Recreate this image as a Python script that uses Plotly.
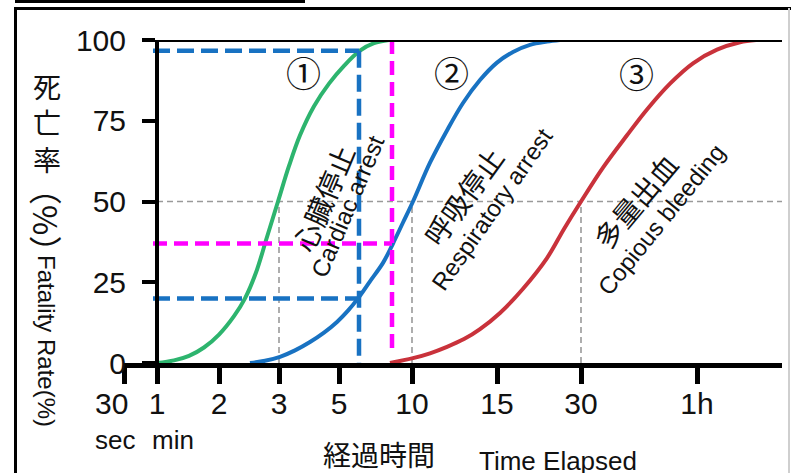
import plotly.graph_objects as go

# ---------------- data ----------------
# x axis: custom (non-uniform) time scale, tick positions in axis units
tick_pos = [0, 33, 95, 155, 215, 288, 373, 457, 573]
tick_text = ["", "1", "2", "3", "5", "10", "15", "30", "1h"]
x_max = 658

# 1: cardiac arrest
cardiac_x = [33, 50, 65, 80, 95, 110, 121, 132, 143, 154, 165, 176, 190, 205, 220, 236, 250, 265]
cardiac_y = [0, 0.8, 2.2, 4.8, 8.8, 14.5, 20, 28, 39, 50, 61, 70.5, 79.5, 86.5, 92, 96.7, 99, 100]
# 2: respiratory arrest
resp_x = [126, 141, 156, 171, 186, 200, 213, 224, 234, 246, 259, 269, 279, 289, 306, 323, 339, 356, 373, 389, 406, 423, 436]
resp_y = [0, 0.7, 1.9, 3.9, 6.5, 9.4, 12.7, 16.2, 20, 25.3, 31, 37, 43.5, 50, 62, 72, 80.5, 87.6, 93, 96.3, 98.5, 99.5, 100]
# 3: copious bleeding
bleed_x = [266, 289, 306, 323, 340, 356, 376, 399, 423, 440, 457, 479, 503, 523, 546, 569, 593, 616, 632]
bleed_y = [0, 1.5, 3.0, 5, 7.4, 10.5, 15.5, 23, 32.5, 41.5, 50, 60.5, 70.5, 78.5, 86.5, 92.8, 97, 99.3, 100]

median_x = [155, 288, 457]     # times at 50 % fatality
half_rate = 50
blue_guide_x = 235
blue_guide_y = [96.7, 20]
mag_guide_x = 268
mag_guide_y = 37
guide_x0 = 29

# ---------------- style ----------------
W, H = 791, 473
L, R, T, B = 124, 9, 40, 110
PW, PH = W - L - R, H - T - B
LAT = "Liberation Sans, Arial, Noto Sans CJK JP"
CJK = "Noto Sans CJK JP, Liberation Sans"

GREEN = "#2db46e"
BLUE = "#1872c2"
RED = "#c9323b"
MAG = "#ff00ff"
GDASH = "#9a9a9a"


def px_x(px):
    return (px - L) / PW


def px_y(py):
    return (H - B - py) / PH


fig = go.Figure()

# gray reference lines
fig.add_trace(go.Scatter(x=[tick_pos[1], x_max], y=[half_rate, half_rate], mode="lines",
                         line=dict(color=GDASH, width=1.6, dash="6px,4px"), hoverinfo="skip"))
for mx in median_x:
    fig.add_trace(go.Scatter(x=[mx, mx], y=[0, half_rate], mode="lines",
                             line=dict(color=GDASH, width=1.6, dash="6px,4px"), hoverinfo="skip"))

# curves
for xs, ys, c in [(cardiac_x, cardiac_y, GREEN), (resp_x, resp_y, BLUE), (bleed_x, bleed_y, RED)]:
    fig.add_trace(go.Scatter(x=xs, y=ys, mode="lines", line=dict(color=c, width=4, shape="spline", smoothing=1.0),
                             hoverinfo="skip"))

# guide dashed lines
for gy in blue_guide_y:
    fig.add_trace(go.Scatter(x=[guide_x0, blue_guide_x], y=[gy, gy], mode="lines",
                             line=dict(color=BLUE, width=4.5, dash="17px,7px"), hoverinfo="skip"))
fig.add_trace(go.Scatter(x=[blue_guide_x, blue_guide_x], y=[blue_guide_y[0], 0], mode="lines",
                         line=dict(color=BLUE, width=4.5, dash="17px,7px"), hoverinfo="skip"))
fig.add_trace(go.Scatter(x=[guide_x0, mag_guide_x], y=[mag_guide_y, mag_guide_y], mode="lines",
                         line=dict(color=MAG, width=4.5, dash="14px,7px"), hoverinfo="skip"))
fig.add_trace(go.Scatter(x=[mag_guide_x, mag_guide_x], y=[100, 2.5], mode="lines",
                         line=dict(color=MAG, width=4.5, dash="14px,7px"), hoverinfo="skip"))

shapes = [
    # top line at 100 %
    dict(type="line", xref="x", yref="y", x0=tick_pos[1], x1=x_max, y0=100, y1=100,
         line=dict(color="black", width=4)),
    # outer frame
    dict(type="rect", xref="paper", yref="paper", x0=px_x(15), x1=px_x(305), y0=px_y(0), y1=px_y(3),
         fillcolor="black", line=dict(width=0)),
    dict(type="line", xref="paper", yref="paper", x0=px_x(14), x1=px_x(791), y0=px_y(8.5), y1=px_y(8.5),
         line=dict(color="black", width=3)),
    dict(type="line", xref="paper", yref="paper", x0=px_x(15.5), x1=px_x(15.5), y0=px_y(8), y1=px_y(473),
         line=dict(color="black", width=3)),
    dict(type="line", xref="paper", yref="paper", x0=px_x(789), x1=px_x(789), y0=px_y(8), y1=px_y(473),
         line=dict(color="#cfcfcf", width=2)),
]

ann = []


def add_text(text, x, y, size, family=LAT, angle=0, xref="x", yref="y", xanchor="center", yanchor="middle",
             align="center"):
    ann.append(dict(text=text, x=x, y=y, xref=xref, yref=yref, showarrow=False, textangle=angle,
                    font=dict(family=family, size=size, color="#111"), xanchor=xanchor, yanchor=yanchor,
                    align=align))


# circled numbers
add_text("①", 179, 90.1, 35, CJK)
add_text("②", 327, 90.1, 35, CJK)
add_text("③", 512, 89.8, 35, CJK)

# curve labels
add_text("心臓停止", 199, 51.1, 28, CJK, -67)
add_text("Cardiac arrest", 224, 48.3, 24, LAT, -67)
add_text("呼吸停止", 339, 51.7, 28, CJK, -54)
add_text("Respiratory arrest", 368, 47.4, 24, LAT, -55)
add_text("多量出血", 511, 50.2, 28, CJK, -50)
add_text("Copious bleeding", 537.5, 44.3, 24, LAT, -51)

# x tick extras
add_text("30", px_x(93), px_y(404), 30, LAT, xref="paper", yref="paper", xanchor="left")
add_text("sec", px_x(93), px_y(440), 26, LAT, xref="paper", yref="paper", xanchor="left")
add_text("min", px_x(150), px_y(440), 26, LAT, xref="paper", yref="paper", xanchor="left")

# axis titles
add_text("死<br>亡<br>率", px_x(47), px_y(123), 28, CJK, xref="paper", yref="paper")
add_text("（%）", px_x(47), px_y(220), 33, CJK, 90, xref="paper", yref="paper")
add_text("Fatality Rate(%)", px_x(47), px_y(341), 24, LAT, 90, xref="paper", yref="paper")
add_text("経過時間", px_x(378.5), px_y(454), 28, CJK, xref="paper", yref="paper")
add_text("Time Elapsed", px_x(557.5), px_y(461), 26, LAT, xref="paper", yref="paper")

fig.update_layout(
    width=W, height=H,
    margin=dict(l=L, r=R, t=T, b=B, pad=0),
    paper_bgcolor="white", plot_bgcolor="white",
    showlegend=False,
    shapes=shapes,
    annotations=ann,
    xaxis=dict(range=[0, x_max], tickmode="array", tickvals=tick_pos, ticktext=tick_text,
               showline=True, linecolor="black", linewidth=4.5, ticks="outside", ticklen=16, tickwidth=4.5,
               tickcolor="black", showgrid=False, zeroline=False, ticklabelstandoff=-6,
               tickfont=dict(family=LAT, size=30, color="#111")),
    yaxis=dict(range=[0, 100], tickvals=[0, 25, 50, 75, 100], anchor="free", position=33 / PW,
               showline=True, linecolor="black", linewidth=4, ticks="outside", ticklen=13, tickwidth=4,
               tickcolor="black", showgrid=False, zeroline=False, ticklabelstandoff=10,
               tickfont=dict(family=LAT, size=30, color="#111")),
)

fig.write_html("out.html", config={"displayModeBar": False},
               post_script="document.body.style.margin='0px';document.body.style.overflow='hidden';")
